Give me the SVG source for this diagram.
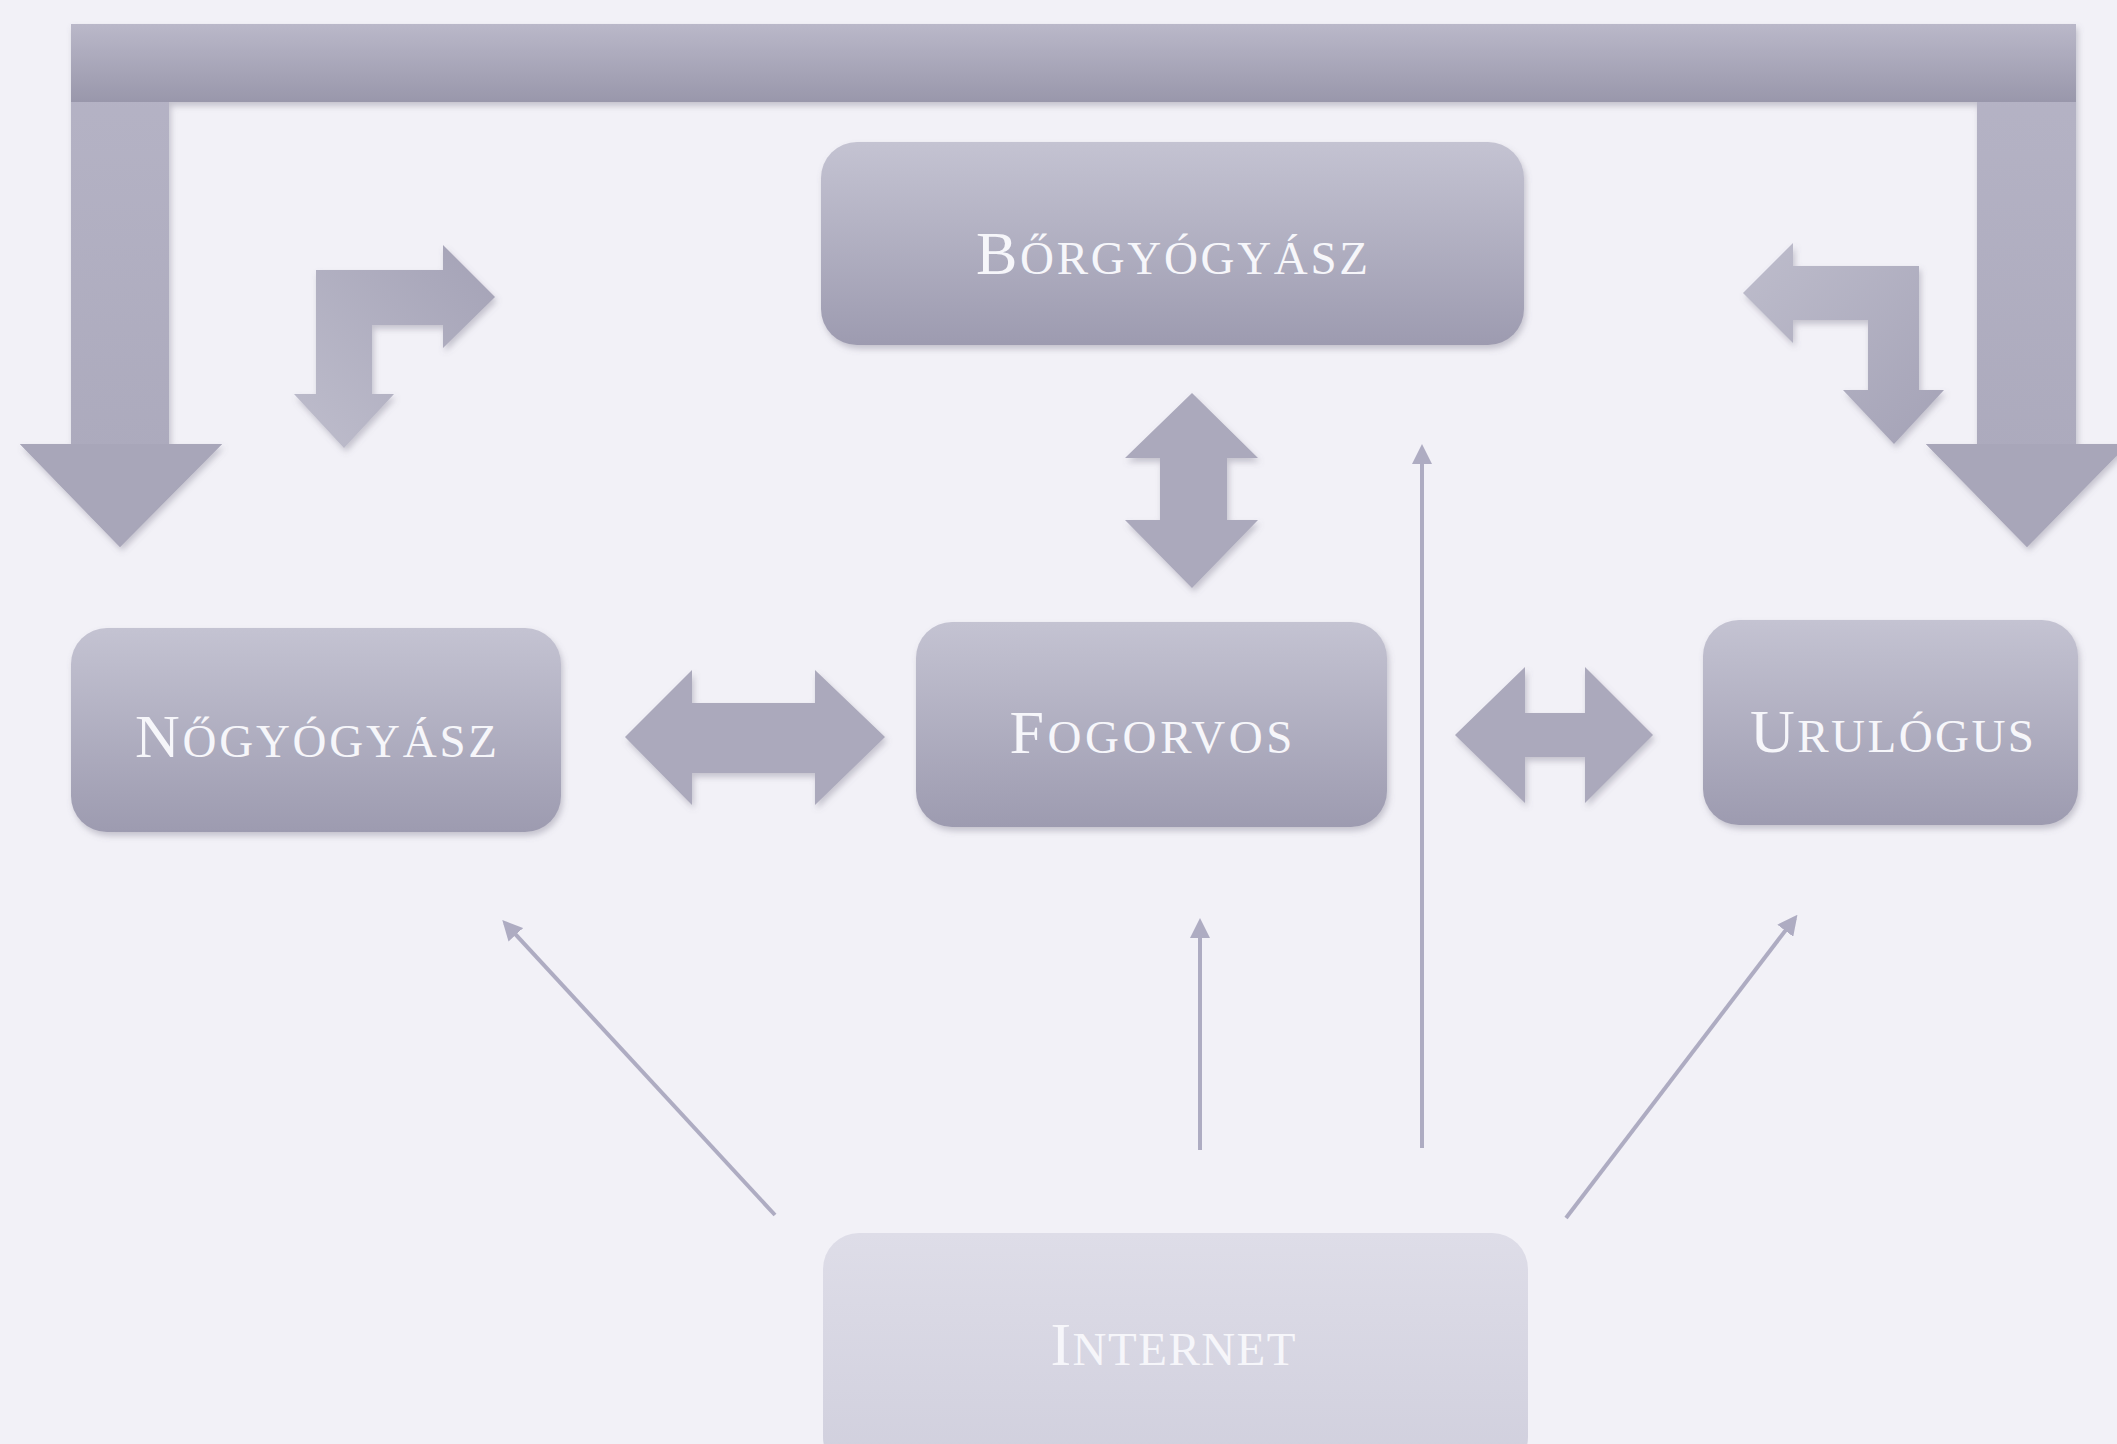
<svg xmlns="http://www.w3.org/2000/svg" width="2117" height="1444" viewBox="0 0 2117 1444">
  <defs>
    <linearGradient id="boxGrad" x1="0" y1="0" x2="0" y2="1">
      <stop offset="0" stop-color="#c4c3d2"/>
      <stop offset="1" stop-color="#9d9bb0"/>
    </linearGradient>
    <linearGradient id="netGrad" x1="0" y1="0" x2="0" y2="1">
      <stop offset="0" stop-color="#dedde8"/>
      <stop offset="1" stop-color="#d0cfdd"/>
    </linearGradient>
    <linearGradient id="barGrad" x1="0" y1="0" x2="0" y2="1">
      <stop offset="0" stop-color="#bab8c9"/>
      <stop offset="1" stop-color="#9997ab"/>
    </linearGradient>
    <linearGradient id="shaftGrad" x1="0" y1="0" x2="0" y2="1">
      <stop offset="0" stop-color="#b6b4c6"/>
      <stop offset="1" stop-color="#aaa8bb"/>
    </linearGradient>
    <linearGradient id="bentGrad" x1="1" y1="0" x2="0" y2="1">
      <stop offset="0" stop-color="#a4a2b6"/>
      <stop offset="1" stop-color="#bebdcc"/>
    </linearGradient>
    <linearGradient id="bentGradR" x1="0" y1="0" x2="1" y2="1">
      <stop offset="0" stop-color="#bebdcc"/>
      <stop offset="1" stop-color="#a4a2b6"/>
    </linearGradient>
    <filter id="shadow" x="-10%" y="-10%" width="120%" height="130%">
      <feDropShadow dx="2" dy="4" stdDeviation="3" flood-color="#6e6c80" flood-opacity="0.35"/>
    </filter>
    <marker id="tip" viewBox="0 0 10 10" refX="8" refY="5" markerWidth="5" markerHeight="5" orient="auto" markerUnits="strokeWidth">
      <path d="M0,0 L10,5 L0,10 z" fill="#aeacc2"/>
    </marker>
  </defs>
  <style>
    .box { fill: url(#boxGrad); filter: url(#shadow); }
    .net { fill: url(#netGrad); }
    .fat { fill: #abA9bc; filter: url(#shadow); }
    .lbl { font-family: "Liberation Serif", "Times New Roman", serif; font-size: 47px; fill: #f6f6fa; text-anchor: middle; }
    .cap { font-size: 62px; }
    .thin { stroke: #aeacc2; stroke-width: 4; fill: none; marker-end: url(#tip); }
  </style>

  <rect x="0" y="0" width="2117" height="1444" fill="#f2f1f7"/>

  <g id="connectors">
    <!-- big bracket -->
    <g id="bracket">
      <path d="M71,24 L2076,24 L2076,444 L2128,444 L2027,547 L1926,444 L1977,444 L1977,102 L169,102 L169,444 L222,444 L120,547 L20,444 L71,444 Z" fill="url(#shaftGrad)" filter="url(#shadow)"/>
      <rect x="71" y="24" width="2005" height="78" fill="url(#barGrad)"/>
      <path d="M20,444 L222,444 L120,547 Z M1926,444 L2128,444 L2027,547 Z" fill="#a8a6b9"/>
    </g>
    <path id="bent-left" d="M495,297 L443,348 L443,325 L372,325 L372,394 L394,394 L344,448 L294,394 L316,394 L316,270 L443,270 L443,245 Z" fill="url(#bentGrad)" filter="url(#shadow)"/>
    <path id="bent-right" d="M1743,293 L1793,243 L1793,266 L1919,266 L1919,390 L1944,390 L1894,444 L1843,390 L1868,390 L1868,320 L1793,320 L1793,343 Z" fill="url(#bentGradR)" filter="url(#shadow)"/>
    <path id="dbl-nogy-fog" class="fat" d="M625,737 L692,670 L692,703 L815,703 L815,670 L885,737 L815,805 L815,773 L692,773 L692,805 Z"/>
    <path id="dbl-fog-uru" class="fat" d="M1455,735 L1525,667 L1525,713 L1585,713 L1585,667 L1653,735 L1585,803 L1585,757 L1525,757 L1525,803 Z"/>
    <path id="dbl-bor-fog" class="fat" d="M1192,393 L1258,458 L1227,458 L1227,520 L1258,520 L1192,588 L1125,520 L1160,520 L1160,458 L1125,458 Z"/>
    <line class="thin" x1="775" y1="1215" x2="505" y2="923"/>
    <line class="thin" x1="1200" y1="1150" x2="1200" y2="922"/>
    <line class="thin" x1="1422" y1="1148" x2="1422" y2="448"/>
    <line class="thin" x1="1566" y1="1218" x2="1795" y2="918"/>
  </g>

  <g id="borgyogyasz">
    <rect class="box" x="821" y="142" width="703" height="203" rx="36"/>
    <text class="lbl" x="1172" y="274" textLength="392" lengthAdjust="spacing"><tspan class="cap">B</tspan>ŐRGYÓGYÁSZ</text>
  </g>
  <g id="nogyogyasz">
    <rect class="box" x="71" y="628" width="490" height="204" rx="36"/>
    <text class="lbl" x="316" y="757" textLength="362" lengthAdjust="spacing"><tspan class="cap">N</tspan>ŐGYÓGYÁSZ</text>
  </g>
  <g id="fogorvos">
    <rect class="box" x="916" y="622" width="471" height="205" rx="36"/>
    <text class="lbl" x="1151" y="753" textLength="283" lengthAdjust="spacing"><tspan class="cap">F</tspan>OGORVOS</text>
  </g>
  <g id="urulogus">
    <rect class="box" x="1703" y="620" width="375" height="205" rx="36"/>
    <text class="lbl" x="1892" y="752" textLength="284" lengthAdjust="spacing"><tspan class="cap">U</tspan>RULÓGUS</text>
  </g>
  <g id="internet">
    <rect class="net" x="823" y="1233" width="705" height="240" rx="36"/>
    <text class="lbl" x="1173" y="1365" textLength="245" lengthAdjust="spacing"><tspan class="cap">I</tspan>NTERNET</text>
  </g>
</svg>
